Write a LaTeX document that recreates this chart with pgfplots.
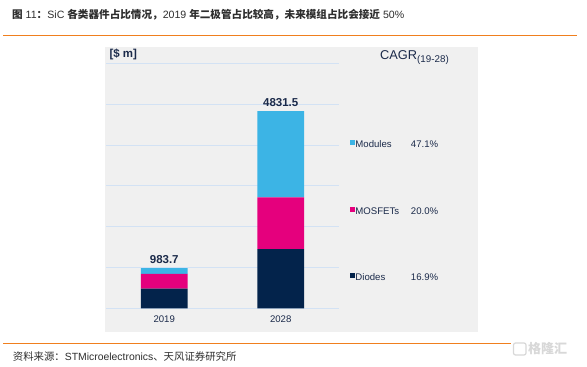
\documentclass[border=0pt]{standalone}
\usepackage{pgfplots}
\pgfplotsset{compat=1.18}
\usepackage{fontspec}
\setmainfont{Liberation Sans}
\newfontfamily\cjk{Noto Sans CJK SC}
\definecolor{navy}{HTML}{03234B}
\definecolor{mag}{HTML}{E5007D}
\definecolor{sky}{HTML}{3CB4E5}
\definecolor{panel}{HTML}{F0F0F0}
\definecolor{gridc}{HTML}{D3E2F4}
\definecolor{txt}{HTML}{1B2A4A}
\definecolor{orng}{HTML}{F07F1E}
\definecolor{titlec}{HTML}{2E2E2E}
\definecolor{wm}{HTML}{D8D8D8}
\begin{document}
\begin{tikzpicture}[x=1pt,y=1pt]
\path[use as bounding box] (0,0) rectangle (587,367);
\fill[white] (0,0) rectangle (587,367);
\fill[panel] (105,35.3) rectangle (477.7,320.3);
% title
\node[anchor=base west, inner sep=0, text=titlec] at (12,348.5) {\fontsize{10.6}{12}\selectfont{\cjk\bfseries 图}~11{\cjk\bfseries ：}SiC~{\cjk\bfseries 各类器件占比情况，}2019~{\cjk\bfseries 年二极管占比较高，未来模组占比会接近}~50\%};
\draw[orng, line width=1pt] (3.3,331.7) -- (576.7,331.7);
\draw[orng, line width=0.8pt] (3.3,23.7) -- (576.7,23.7);
% source
\node[anchor=base west, inner sep=0, text=titlec] at (12.7,6.8) {\fontsize{10.4}{12}\selectfont{\cjk 资料来源：}STMicroelectronics{\cjk 、天风证券研究所}};
% watermark
\fill[white] (511,10) rectangle (578,25.5);
\draw[wm, line width=1.2pt, rounded corners=2pt] (513.5,12) rectangle (526,24);
\node[anchor=west, inner sep=0, text=wm] at (528,18) {\fontsize{13}{14}\selectfont\cjk\bfseries 格隆汇};
% labels
\node[anchor=base west, inner sep=0, text=txt] at (109.3,309) {\bfseries\fontsize{11.5}{13}\selectfont [\$ m]};
\node[anchor=base west, inner sep=0, text=txt] at (380,307.5) {\fontsize{12.8}{14}\selectfont CAGR\raisebox{-2.8pt}{\fontsize{9.8}{11}\selectfont(19-28)}};
\begin{axis}[
  at={(106pt,58.7pt)}, anchor=south west,
  scale only axis, width=233pt, height=245pt,
  xmin=-0.5, xmax=1.5, ymin=0, ymax=6000,
  ybar stacked, bar width=0.4,
  axis x line=bottom, axis y line=left,
  x axis line style={gridc, line width=0.8pt, -},
  y axis line style={draw=none},
  xtick={0,1}, xticklabels={2019,2028},
  major x tick style={draw=none},
  extra x ticks={-0.5,0.5,1.5}, extra x tick labels={},
  extra x tick style={tick align=outside, major tick length=3pt, tick style={gridc, line width=0.8pt}},
  ytick={1000,2000,3000,4000,5000,6000}, yticklabels={},
  major y tick style={draw=none},
  ymajorgrids, grid style={gridc, line width=0.8pt},
  xticklabel style={font=\fontsize{9.6}{11}\selectfont, text=txt, yshift=-2pt},
  legend cell align=left, reverse legend,
  legend style={at={(axis description cs:1.047,0.688)}, anchor=north west,
    draw=none, fill=none, inner sep=0pt, row sep=56.8pt,
    font=\fontsize{9.6}{11}\selectfont, text=txt,
    nodes={inner sep=0pt, text height=7pt, text depth=2pt},
    /tikz/every even column/.append style={column sep=1.5pt}},
]
\addplot[fill=navy, draw=none, legend image code/.code={\fill[navy] (0pt,0pt) rectangle (5.3pt,5.3pt);}] coordinates {(0,480) (1,1452)};
\addlegendentry{\makebox[55.5pt][l]{Diodes}16.9\%}
\addplot[fill=mag, draw=none, legend image code/.code={\fill[mag] (0pt,0pt) rectangle (5.3pt,5.3pt);}] coordinates {(0,360) (1,1266)};
\addlegendentry{\makebox[55.5pt][l]{MOSFETs}20.0\%}
\addplot[fill=sky, draw=none, legend image code/.code={\fill[sky] (0pt,0pt) rectangle (5.3pt,5.3pt);}] coordinates {(0,143.7) (1,2113.5)};
\addlegendentry{\makebox[55.5pt][l]{Modules}47.1\%}
\node[anchor=base, inner sep=0, text=txt, yshift=5pt] at (axis cs:0,983.7) {\bfseries\fontsize{11.5}{13}\selectfont 983.7};
\node[anchor=base, inner sep=0, text=txt, yshift=5pt] at (axis cs:1,4831.5) {\bfseries\fontsize{11.5}{13}\selectfont 4831.5};
\end{axis}
\end{tikzpicture}
\end{document}
